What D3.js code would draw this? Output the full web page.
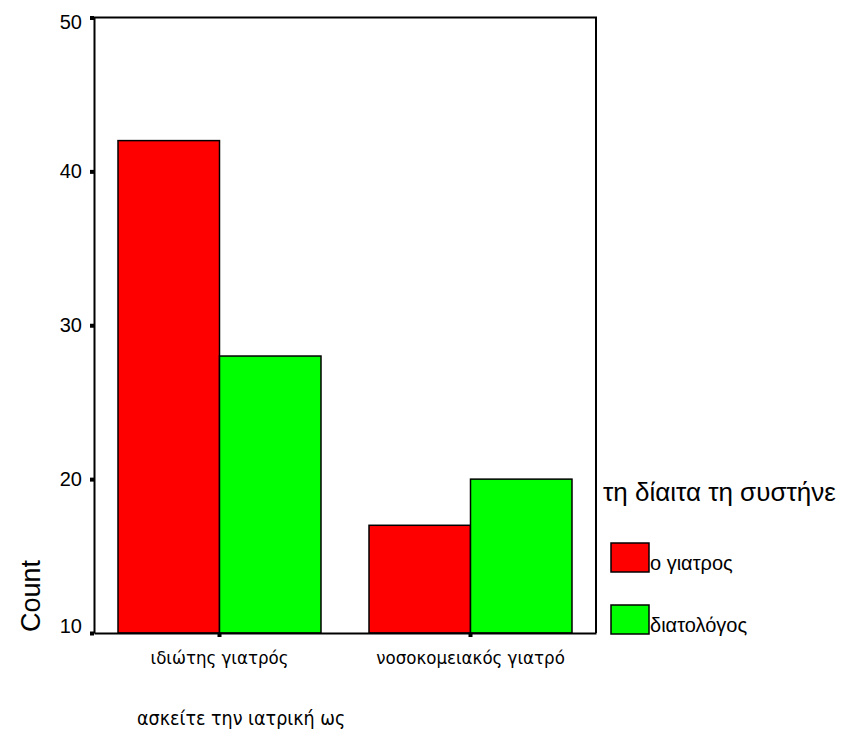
<!DOCTYPE html>
<html>
<head>
<meta charset="utf-8">
<script src="https://cdn.jsdelivr.net/npm/d3@7"></script>
<style>
  html, body { margin: 0; padding: 0; background: #fff; }
  svg { display: block; }
</style>
</head>
<body>
<svg id="chart" width="843" height="742"></svg>
<script>
// Counts by type of practice, split by who recommended the diet
const categories = ["ιδιώτης γιατρός", "νοσοκομειακός γιατρό"];
const seriesNames = ["ο γιατρος", "διατολόγος"];
const seriesColors = ["#ff0000", "#00ff00"];
const valuesDoctor = [42, 17];
const valuesDietitian = [28, 20];
const yTicks = [10, 20, 30, 40, 50];
const yTitle = "Count";
const xTitle = "ασκείτε την ιατρική ως";
const legendTitle = "τη δίαιτα τη συστήνε";

const seriesValues = [valuesDoctor, valuesDietitian];

const svg = d3.select("#chart");
const plot = { left: 94, right: 596, top: 17.5, bottom: 633 };

const y = d3.scaleLinear().domain([10, 50]).range([plot.bottom, plot.top]);
const x = d3.scaleBand().domain(categories).range([plot.left, plot.right]);
const groupPad = 24;
const xs = d3.scaleBand().domain(seriesNames)
  .range([groupPad, x.bandwidth() - groupPad]);

// plot frame (top and right edges)
svg.append("path")
  .attr("d", `M${plot.left},${plot.top}H${plot.right}V${plot.bottom}`)
  .attr("fill", "none").attr("stroke", "#000").attr("stroke-width", 2);

// bars
const groups = svg.append("g").selectAll("g")
  .data(categories).join("g")
  .attr("transform", d => `translate(${x(d)},0)`);

groups.selectAll("rect")
  .data((c, ci) => seriesNames.map((s, si) => ({ s, si, v: seriesValues[si][ci] })))
  .join("rect")
  .attr("x", d => xs(d.s))
  .attr("width", xs.bandwidth())
  .attr("y", d => y(d.v))
  .attr("height", d => y(y.domain()[0]) - y(d.v))
  .attr("fill", d => seriesColors[d.si])
  .attr("stroke", "#000")
  .attr("stroke-width", 1.5);

// y axis: small square tick marks
const yAxis = svg.append("g")
  .attr("transform", `translate(${plot.left},0)`)
  .call(d3.axisLeft(y).tickValues(yTicks).tickSize(4).tickSizeOuter(0).tickPadding(8));
yAxis.select(".domain").attr("stroke", "#000").attr("stroke-width", 2);
yAxis.selectAll(".tick line").attr("stroke", "#000").attr("stroke-width", 4);
yAxis.selectAll(".tick text")
  .attr("font-family", "Liberation Sans, Arial, sans-serif")
  .attr("font-size", 20)
  .attr("fill", "#000")
  .attr("dy", d => d === 50 ? "0.55em" : d === 10 ? "-0.05em" : "0.3em");

// x axis
const xAxis = svg.append("g")
  .attr("transform", `translate(0,${plot.bottom})`)
  .call(d3.axisBottom(x).tickSize(4).tickSizeOuter(0).tickPadding(14));
xAxis.select(".domain").attr("stroke", "#000").attr("stroke-width", 2);
xAxis.selectAll(".tick line").attr("stroke", "#000").attr("stroke-width", 4);
xAxis.selectAll(".tick text")
  .attr("font-family", "DejaVu Sans Condensed, DejaVu Sans, sans-serif")
  .attr("font-size", 18.5)
  .attr("fill", "#000");

// axis titles
svg.append("text")
  .attr("transform", `translate(40,596) rotate(-90)`)
  .attr("text-anchor", "middle")
  .attr("font-family", "Liberation Sans, Arial, sans-serif")
  .attr("font-size", 27)
  .text(yTitle);

svg.append("text")
  .attr("x", 137).attr("y", 725)
  .attr("font-family", "DejaVu Sans Condensed, DejaVu Sans, sans-serif")
  .attr("font-size", 19.5)
  .text(xTitle);

// legend
const legend = svg.append("g").attr("transform", "translate(603,0)");
legend.append("text")
  .attr("x", 0).attr("y", 501)
  .attr("font-family", "Liberation Sans, Arial, sans-serif")
  .attr("font-size", 26)
  .text(legendTitle);

const items = legend.selectAll("g.item")
  .data(seriesNames).join("g")
  .attr("class", "item")
  .attr("transform", (d, i) => `translate(8,${543 + i * 62})`);
items.append("rect")
  .attr("width", 38).attr("height", 29)
  .attr("fill", (d, i) => seriesColors[i])
  .attr("stroke", "#000").attr("stroke-width", 1.5);
items.append("text")
  .attr("x", 39).attr("y", 27)
  .attr("font-family", "Liberation Sans, Arial, sans-serif")
  .attr("font-size", 20)
  .text(d => d);
</script>
</body>
</html>
